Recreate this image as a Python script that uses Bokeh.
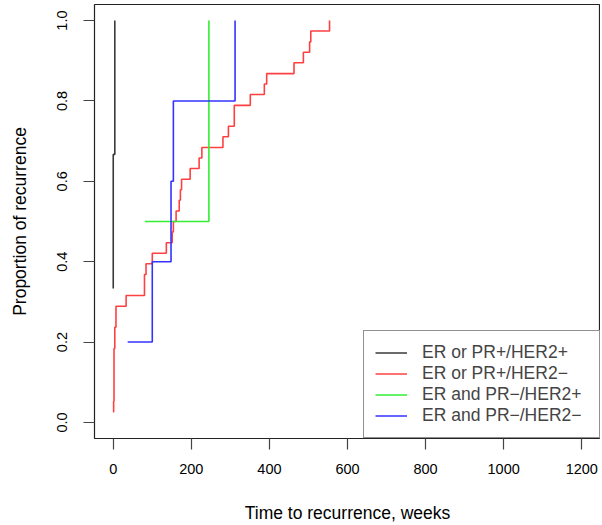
from bokeh.plotting import figure
from bokeh.models import FixedTicker, PrintfTickFormatter, Range1d, Legend, LegendItem
from bokeh.embed import file_html
from bokeh.resources import INLINE

# ---- data ----
black_t = [0, 0, 4]
black_p = [0.333, 0.667, 1.0]

red_t = [0, 1, 2, 2, 2, 2, 2, 4, 4, 7, 7, 33, 80, 80, 84, 100, 136, 151, 154, 161,
         169, 172, 175, 197, 220, 227, 281, 295, 310, 310, 351, 387, 393, 463, 487,
         503, 506, 554]
red_p = [0.026, 0.053, 0.079, 0.105, 0.132, 0.158, 0.184, 0.211, 0.237, 0.263,
         0.289, 0.316, 0.342, 0.368, 0.395, 0.421, 0.447, 0.474, 0.500, 0.526,
         0.553, 0.579, 0.605, 0.632, 0.658, 0.684, 0.711, 0.737, 0.763, 0.789,
         0.816, 0.842, 0.868, 0.895, 0.921, 0.947, 0.974, 1.000]

green_t = [81, 245]
green_p = [0.5, 1.0]

blue_t = [37, 100, 148, 154, 312]
blue_p = [0.2, 0.4, 0.6, 0.8, 1.0]

labels = ["ER or PR+/HER2+", "ER or PR+/HER2\u2212",
          "ER and PR\u2212/HER2+", "ER and PR\u2212/HER2\u2212"]
colors = ["#3a3a3a", "#ff4040", "#33ee33", "#3333ff"]

x_ticks = [0, 200, 400, 600, 800, 1000, 1200]
y_ticks = [0.0, 0.2, 0.4, 0.6, 0.8, 1.0]

FONT = "Liberation Sans"
TICK_FS = "14.5px"
LAB_FS = "17.5px"

p = figure(frame_width=506, frame_height=434,
           min_border_left=94, min_border_right=0, min_border_top=4, min_border_bottom=82,
           x_range=Range1d(-48, 1248), y_range=Range1d(-0.04, 1.04),
           output_backend="svg", toolbar_location=None)

p.xgrid.visible = False
p.ygrid.visible = False
p.outline_line_color = "#222222"
p.outline_line_width = 1.2
p.background_fill_color = "white"

series = [(black_t, black_p), (red_t, red_p), (green_t, green_p), (blue_t, blue_p)]
renderers = []
for (t, v), c in zip(series, colors):
    r = p.step(t, v, mode="after", line_color=c, line_width=1.6)
    renderers.append(r)

for ax in (p.xaxis[0], p.yaxis[0]):
    ax.axis_line_color = None
    ax.major_tick_in = 0
    ax.major_tick_out = 11
    ax.major_tick_line_color = "#444444"
    ax.major_tick_line_width = 1.2
    ax.minor_tick_line_color = None
    ax.major_label_text_font = FONT
    ax.major_label_text_font_size = TICK_FS
    ax.major_label_text_color = "black"
    ax.axis_label_text_font = FONT
    ax.axis_label_text_font_size = LAB_FS
    ax.axis_label_text_font_style = "normal"
    ax.axis_label_text_color = "black"

p.xaxis.ticker = FixedTicker(ticks=x_ticks)
p.yaxis.ticker = FixedTicker(ticks=y_ticks)
p.yaxis.formatter = PrintfTickFormatter(format="%.1f")
p.yaxis.major_label_orientation = "vertical"
p.xaxis.major_label_standoff = 14
p.yaxis.major_label_standoff = 16
p.xaxis.axis_label = "Time to recurrence, weeks"
p.yaxis.axis_label = "Proportion of recurrence"
p.xaxis.axis_label_standoff = 26
p.yaxis.axis_label_standoff = 25

legend = Legend(items=[LegendItem(label=l, renderers=[r]) for l, r in zip(labels, renderers)],
                location="bottom_right", margin=0, padding=11, spacing=0,
                glyph_width=32, glyph_height=21, label_height=21, label_width=166,
                label_standoff=15,
                label_text_font=FONT, label_text_font_size=LAB_FS,
                border_line_color="#222222", border_line_width=1.2,
                background_fill_alpha=1.0)
p.add_layout(legend)

open("out.html", "w").write(file_html(p, INLINE))
